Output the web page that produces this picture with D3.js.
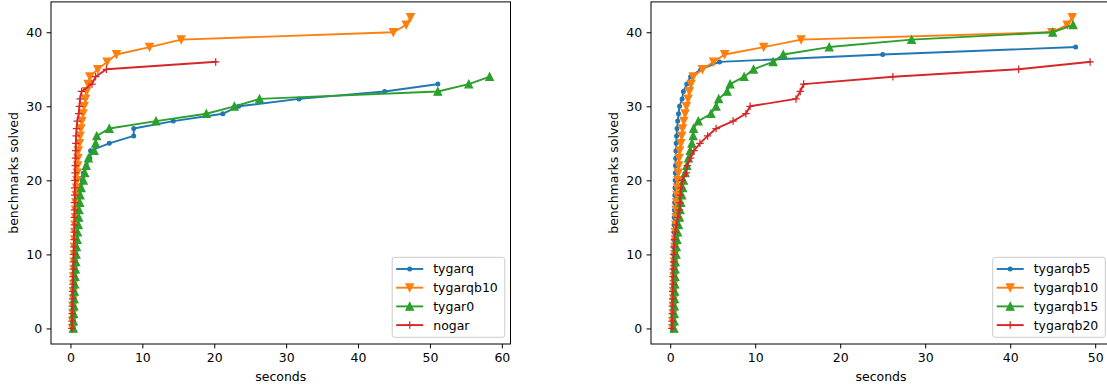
<!DOCTYPE html>
<html>
<head>
<meta charset="utf-8">
<script src="https://cdn.jsdelivr.net/npm/d3@7"></script>
<style>
  body { margin: 0; background: #fff; }
  svg { display: block; }
  text { font-family: "DejaVu Sans", sans-serif; }
</style>
</head>
<body>
<svg id="chart" width="1107" height="387"></svg>
<script>

// benchmarks solved = index (0..N), seconds = value
var tygarq = [0.3, 0.35, 0.4, 0.45, 0.5, 0.5, 0.55, 0.6, 0.65, 0.7, 0.75, 0.8, 0.85, 0.9, 1.0, 1.05,
  1.1, 1.2, 1.3, 1.4, 1.6, 1.8, 2.2, 2.7, 2.8, 5.4, 8.8, 8.8, 14.3, 21.2, 23.4, 31.8, 43.7, 51.1];
var tygarqb10 = [0.3, 0.3, 0.35, 0.35, 0.4, 0.4, 0.45, 0.45, 0.5, 0.5, 0.55, 0.55, 0.6, 0.6, 0.65, 0.7,
  0.7, 0.75, 0.8, 0.85, 0.9, 0.95, 1.0, 1.05, 1.1, 1.25, 1.35, 1.45, 1.6, 1.75, 1.9, 2.1, 2.25, 2.45,
  2.7, 3.8, 5.1, 6.4, 11.0, 15.4, 44.9, 46.7, 47.3];
var tygar0 = [0.4, 0.42, 0.45, 0.5, 0.52, 0.55, 0.6, 0.65, 0.7, 0.75, 0.8, 0.85, 0.95, 1.0, 1.1, 1.15,
  1.2, 1.3, 1.35, 1.5, 1.8, 2.0, 2.2, 2.5, 3.3, 3.5, 3.66, 5.4, 11.9, 18.9, 22.8, 26.3, 51.1, 55.4, 58.3];
var nogar = [0.2, 0.22, 0.25, 0.27, 0.3, 0.32, 0.35, 0.37, 0.4, 0.42, 0.45, 0.47, 0.5, 0.52, 0.55, 0.55,
  0.57, 0.58, 0.6, 0.6, 0.62, 0.65, 0.67, 0.7, 0.72, 0.75, 0.8, 0.85, 0.95, 1.15, 1.25, 1.35, 1.55,
  3.0, 3.5, 5.0, 20.2];

var tygarqb5 = [0.25, 0.27, 0.28, 0.3, 0.32, 0.33, 0.35, 0.36, 0.37, 0.38, 0.4, 0.41, 0.42, 0.44, 0.45,
  0.47, 0.5, 0.52, 0.54, 0.56, 0.58, 0.6, 0.62, 0.64, 0.67, 0.7, 0.75, 0.8, 0.88, 0.98, 1.1, 1.4, 1.55,
  1.95, 2.4, 3.6, 5.8, 25.0, 47.7];
var tygarqb15 = [0.45, 0.47, 0.48, 0.5, 0.52, 0.53, 0.55, 0.57, 0.58, 0.6, 0.7, 0.73, 0.8, 0.88, 0.98,
  1.1, 1.17, 1.25, 1.37, 1.48, 1.57, 1.76, 1.96, 2.15, 2.35, 2.55, 2.7, 2.75, 3.3, 4.8, 5.4, 5.7, 6.7,
  7.05, 8.7, 9.8, 12.1, 13.3, 18.7, 28.4, 45.0, 47.4];
var tygarqb20 = [0.2, 0.22, 0.24, 0.26, 0.28, 0.3, 0.32, 0.34, 0.36, 0.38, 0.4, 0.45, 0.5, 0.6, 0.72,
  0.9, 1.1, 1.15, 1.2, 1.3, 1.4, 1.9, 2.0, 2.4, 2.8, 3.5, 4.4, 5.4, 7.4, 8.9, 9.4, 14.8, 15.3, 15.7,
  26.2, 41.0, 49.4];

var leftNames = ['tygarq', 'tygarqb10', 'tygar0', 'nogar'];
var leftSeries = [tygarq, tygarqb10, tygar0, nogar];
var rightNames = ['tygarqb5', 'tygarqb10', 'tygarqb15', 'tygarqb20'];
var rightSeries = [tygarqb5, tygarqb10, tygarqb15, tygarqb20];

var markers = ['.', 'v', '^', '+'];
var colors = ['#1f77b4', '#ff7f0e', '#2ca02c', '#d62728'];
var xTicksLeft = [0, 10, 20, 30, 40, 50, 60];
var xTicksRight = [0, 10, 20, 30, 40, 50];
var yTicks = [0, 10, 20, 30, 40];

var FONT = 12.5;
var MS = 7.5;      // marker size
var TICK = 4.4;

var svg = d3.select('#chart');

function markerPath(type, s){
  var h = s / 2;
  if (type === 'v') return 'M' + (-h) + ',' + (-h) + 'L' + h + ',' + (-h) + 'L0,' + h + 'Z';
  if (type === '^') return 'M0,' + (-h) + 'L' + h + ',' + h + 'L' + (-h) + ',' + h + 'Z';
  if (type === '+') return 'M' + (-h) + ',0H' + h + 'M0,' + (-h) + 'V' + h;
  return null;
}

function drawMarker(g, type, color, x, y){
  if (type === '.') {
    g.append('circle').attr('cx', x).attr('cy', y).attr('r', MS / 4)
      .attr('fill', color).attr('stroke', color).attr('stroke-width', 1.25);
  } else {
    g.append('path').attr('d', markerPath(type, MS))
      .attr('transform', 'translate(' + x + ',' + y + ')')
      .attr('fill', type === '+' ? 'none' : color)
      .attr('stroke', color).attr('stroke-width', 1.25)
      .attr('stroke-linejoin', 'miter');
  }
}

function dibujarPanel(left, right, top, bottom, series, names, xTicks){

  var all = d3.merge(series);
  var xmin = d3.min(all), xmax = d3.max(all);
  var ymax = d3.max(series, function(s){ return s.length - 1; });
  var mx = (xmax - xmin) * 0.05, my = ymax * 0.05;

  var x = d3.scaleLinear().domain([xmin - mx, xmax + mx]).range([left, right]);
  var y = d3.scaleLinear().domain([-my, ymax + my]).range([bottom, top]);

  var line = d3.line()
    .x(function(d){ return x(d); })
    .y(function(d, i){ return y(i); });

  var g = svg.append('g');

  series.forEach(function(s, k){
    var sg = g.append('g');
    sg.append('path')
      .attr('d', line(s))
      .attr('fill', 'none')
      .attr('stroke', colors[k])
      .attr('stroke-width', 1.9)
      .attr('stroke-linejoin', 'round')
      .attr('stroke-linecap', 'square');
    s.forEach(function(v, i){
      drawMarker(sg, markers[k], colors[k], x(v), y(i));
    });
  });

  // frame
  g.append('rect')
    .attr('x', left).attr('y', top)
    .attr('width', right - left).attr('height', bottom - top)
    .attr('fill', 'none').attr('stroke', '#000').attr('stroke-width', 1);

  var xAxis = g.append('g')
    .attr('transform', 'translate(0,' + bottom + ')')
    .call(d3.axisBottom(x).tickValues(xTicks).tickSize(TICK).tickPadding(4.4).tickSizeOuter(0));
  var yAxis = g.append('g')
    .attr('transform', 'translate(' + left + ',0)')
    .call(d3.axisLeft(y).tickValues(yTicks).tickSize(TICK).tickPadding(4.4).tickSizeOuter(0));

  [xAxis, yAxis].forEach(function(a){
    a.select('.domain').remove();
    a.selectAll('line').attr('stroke', '#000').attr('stroke-width', 1);
    a.selectAll('text')
      .attr('font-family', '"DejaVu Sans", sans-serif')
      .attr('font-size', FONT)
      .attr('fill', '#000');
  });

  g.append('text')
    .attr('x', (left + right) / 2)
    .attr('y', 380.5)
    .attr('text-anchor', 'middle')
    .attr('font-size', FONT)
    .text('seconds');

  g.append('text')
    .attr('transform', 'translate(' + (left - 33) + ',' + ((top + bottom) / 2) + ') rotate(-90)')
    .attr('text-anchor', 'middle')
    .attr('font-size', FONT)
    .text('benchmarks solved');

  // legend, lower right
  var leg = g.append('g');
  var box = leg.append('rect');
  var textos = [];
  names.forEach(function(n, k){
    var cy = 11.7 + k * 18.7;
    leg.append('line')
      .attr('x1', 4).attr('x2', 31).attr('y1', cy).attr('y2', cy)
      .attr('stroke', colors[k]).attr('stroke-width', 1.9);
    drawMarker(leg, markers[k], colors[k], 17.5, cy);
    textos.push(leg.append('text')
      .attr('x', 41).attr('y', cy).attr('dy', '0.36em')
      .attr('font-size', FONT)
      .text(n));
  });
  var maxW = d3.max(textos, function(t){ return t.node().getComputedTextLength(); });
  var w = 41 + maxW + 7, h = 80;
  box.attr('width', w).attr('height', h).attr('rx', 2.5)
    .attr('fill', 'rgba(255,255,255,0.8)').attr('stroke', '#cccccc').attr('stroke-width', 1);
  leg.attr('transform', 'translate(' + (right - 5.7 - w) + ',' + (bottom - 6.7 - h) + ')');
}

dibujarPanel(51, 510.5, 1.9, 344, leftSeries, leftNames, xTicksLeft);
dibujarPanel(651, 1111, 1.9, 344, rightSeries, rightNames, xTicksRight);

</script>
</body>
</html>
